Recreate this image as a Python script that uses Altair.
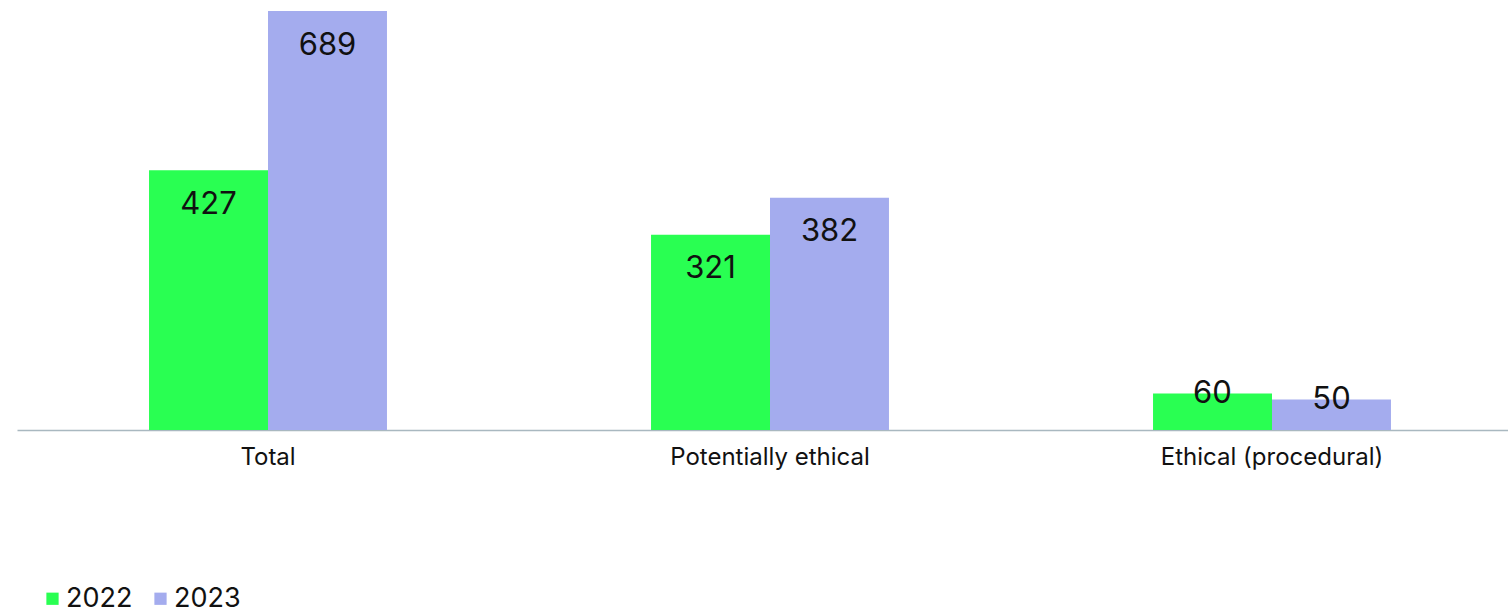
import altair as alt
import pandas as pd

categories = ["Total", "Potentially ethical", "Ethical (procedural)"]
years = ["2022", "2023"]
values_2022 = [427, 321, 60]
values_2023 = [689, 382, 50]

rows = []
for i, cat in enumerate(categories):
    rows.append({"category": cat, "year": years[0], "value": values_2022[i]})
    rows.append({"category": cat, "year": years[1], "value": values_2023[i]})
df = pd.DataFrame(rows)

FONT = "Inter"
colors = ["#29FF52", "#A4ACEE"]

# Bands run past the right edge of the page, so the axis line reaches the border.
x = alt.X(
    "category:N",
    sort=categories,
    scale=alt.Scale(paddingInner=0.526, paddingOuter=0.263, range=[0, 1506]),
    axis=alt.Axis(
        title=None,
        labelAngle=0,
        ticks=False,
        labelFont=FONT,
        labelFontSize=24,
        labelLimit=400,
        labelColor="#111111",
        labelPadding=15,
        domainColor="#A9B8C0",
        domainWidth=1.5,
        grid=False,
    ),
)
xoff = alt.XOffset("year:N", sort=years)
y = alt.Y(
    "value:Q",
    scale=alt.Scale(domain=[0, 689], nice=False),
    axis=None,
)

bars = alt.Chart(df).mark_bar(stroke=None).encode(
    x=x,
    xOffset=xoff,
    y=y,
    color=alt.Color(
        "year:N",
        sort=years,
        scale=alt.Scale(domain=years, range=colors),
        legend=alt.Legend(
            title=None,
            orient="none",
            direction="horizontal",
            legendX=22,
            legendY=574,
            symbolType="square",
            symbolSize=150,
            symbolStrokeWidth=0,
            symbolOpacity=1,
            labelFont=FONT,
            labelFontSize=27,
            labelOffset=0,
            labelColor="#111111",
            columnPadding=14,
            padding=0,
        ),
    ),
)

text_style = dict(font=FONT, fontSize=31, color="#111111", baseline="middle", align="center")

tall_labels = alt.Chart(df).transform_filter("datum.value >= 100").mark_text(
    dy=34.5, **text_style
).encode(x=x, xOffset=xoff, y=y, text="value:Q")

short_labels = alt.Chart(df).transform_filter("datum.value < 100").mark_text(
    dy=0, **text_style
).encode(x=x, xOffset=xoff, y=y, text="value:Q")

chart = (
    alt.layer(bars, tall_labels, short_labels)
    .properties(
        width=1491,
        height=419,
        autosize=alt.AutoSizeParams(type="none"),
        padding={"left": 17, "top": 11, "right": 0, "bottom": 185},
        background="#FFFFFF",
    )
    .configure_view(stroke=None)
)

chart.save("out.html", embed_options={"renderer": "svg", "actions": False})
